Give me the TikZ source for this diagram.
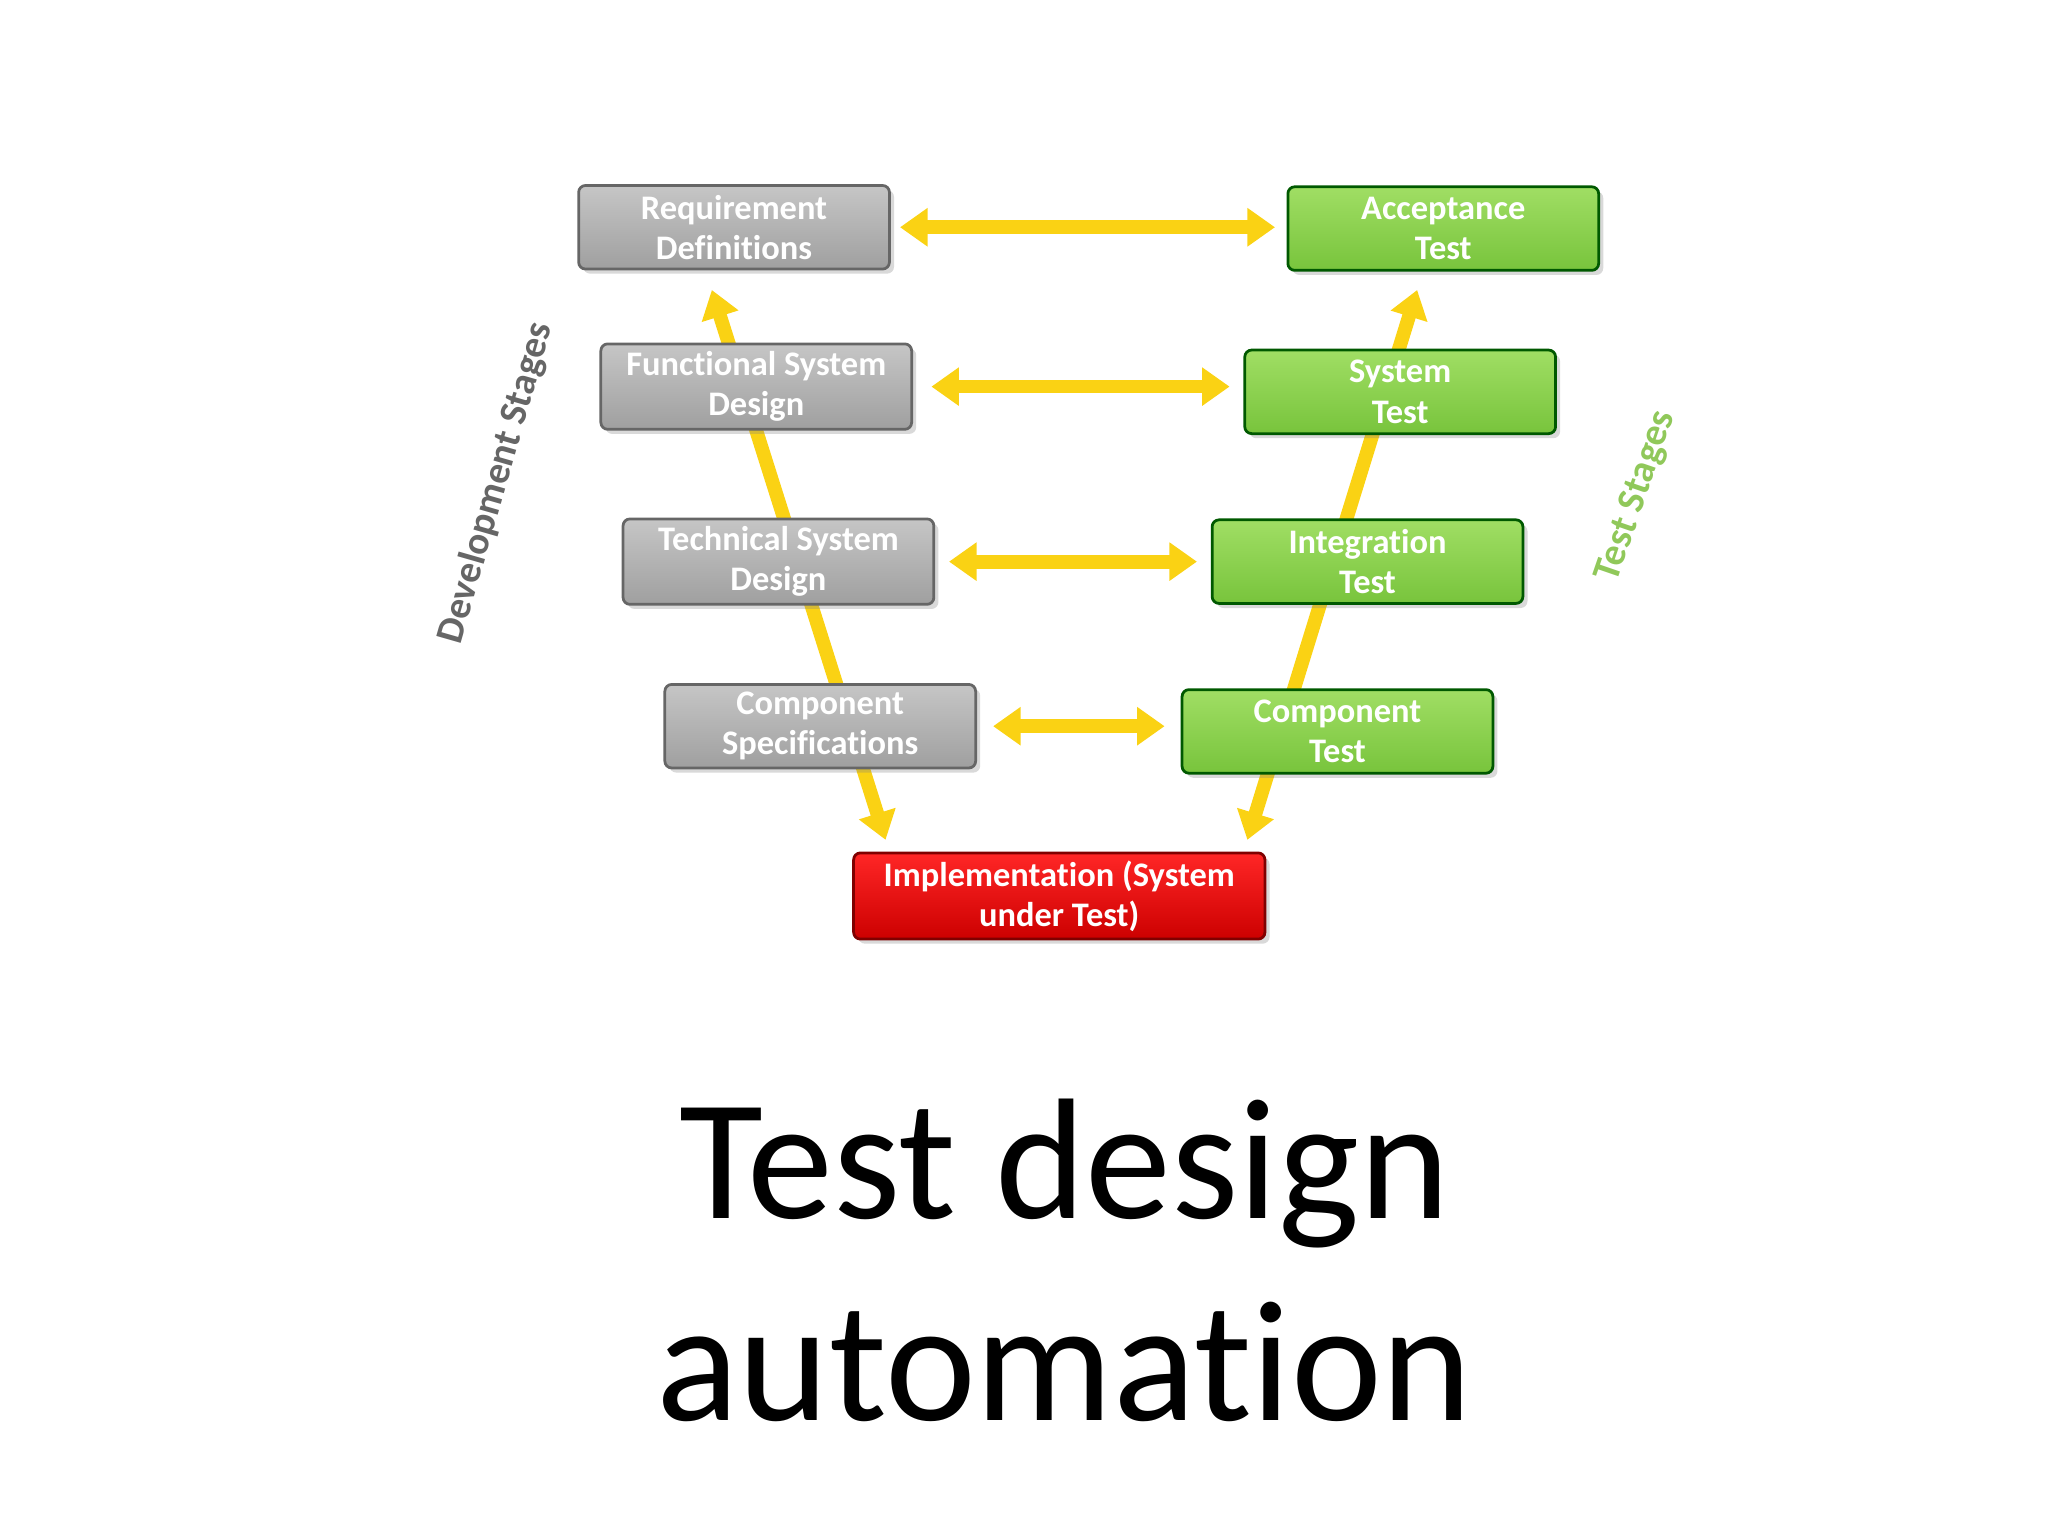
\documentclass[tikz,border=0pt]{standalone}
\usepackage{fontspec}
\setmainfont{Carlito}[RawFeature={-liga;-clig}]
\usetikzlibrary{arrows.meta,shadows}
\definecolor{gtop}{RGB}{160,222,100}
\definecolor{gbot}{RGB}{120,196,60}
\definecolor{ylw}{RGB}{250,210,20}
\begin{document}
\begin{tikzpicture}[x=0.02cm,y=-0.02cm,
 box/.style={rounded corners=3pt,minimum width=4.76cm,minimum height=1.28cm,align=center,
   font=\fontsize{15}{17.5}\selectfont\bfseries,text=white,draw=black!60,line width=1.2pt,
   drop shadow={shadow xshift=2pt,shadow yshift=-2pt,opacity=0.3}},
 dev/.style={box,top color=gray!45,bottom color=gray!75},
 tst/.style={box,top color=gtop,bottom color=gbot,draw=green!35!black},
 imp/.style={box,top color=red!85,bottom color=red!80!black,draw=red!50!black,minimum width=6.3cm},
 arr/.style={line width=6pt,draw=ylw,{Triangle[width=16pt,length=12pt]}-{Triangle[width=16pt,length=12pt]}}]
\useasboundingbox (0,0) rectangle (1568,1176);
\coordinate (lt) at (545,222); \coordinate (lb) at (678,643);
\coordinate (rt) at (1085,222); \coordinate (rb) at (955,643);
\draw[arr] (lt) -- (lb);
\draw[arr] (rb) -- (rt);
\node[dev] (rd) at (562,174) {Requirement\\Definitions};
\node[dev] (fs) at (579,296) {Functional System\\Design};
\node[dev] (ts) at (596,430) {Technical System\\Design};
\node[dev] (cs) at (628,556) {Component\\Specifications};
\node[imp] (im) at (811,686) {Implementation (System\\under Test)};
\node[tst] (at) at (1105,175) {Acceptance\\Test};
\node[tst] (st) at (1072,300) {System\\Test};
\node[tst] (it) at (1047,430) {Integration\\Test};
\node[tst] (ct) at (1024,560) {Component\\Test};
\draw[arr,shorten <=4pt,shorten >=5pt] (rd.east) -- (at.west|-rd.east);
\draw[arr,shorten <=8pt,shorten >=6pt] (fs.east) -- (st.west|-fs.east);
\draw[arr,shorten <=6pt,shorten >=6pt] (ts.east) -- (it.west|-ts.east);
\draw[arr,shorten <=7pt,shorten >=7pt] (cs.east) -- (ct.west|-cs.east);
\node[rotate=74,text=gray!80!black,font=\fontsize{17}{20}\selectfont\bfseries] (dl) at (380,370) {Development Stages};
\node[rotate=71,text=gtop!90!black,font=\fontsize{17}{20}\selectfont\bfseries] (tl) at (1253,380) {Test Stages};
\node[align=center,font=\fontsize{75}{88}\selectfont] (ti) at (815,965) {Test design\\automation};
\end{tikzpicture}
\end{document}
